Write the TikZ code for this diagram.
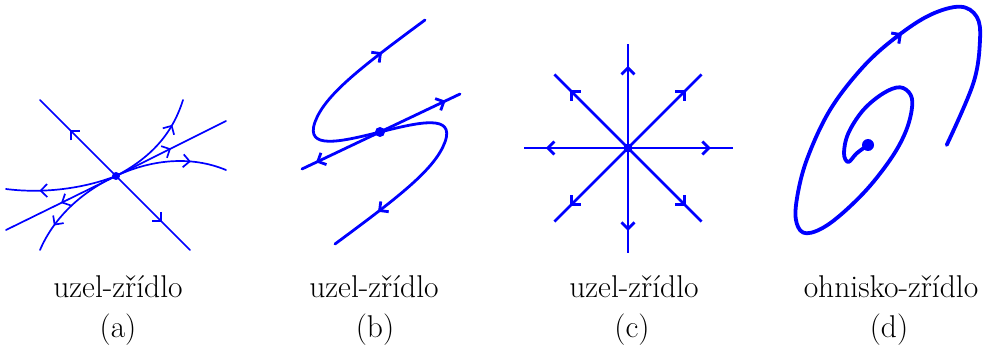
\documentclass[tikz,border=0pt]{standalone}
\usetikzlibrary{arrows.meta,decorations.markings}
\begin{document}
\begin{tikzpicture}[x=1pt,y=-1pt,
  traj/.style={draw=blue,line cap=round,line join=round},
  thinA/.style={traj,line width=1.7pt},
  thickB/.style={traj,line width=2.8pt},
  thickD/.style={traj,line width=3.8pt},
  midarrow/.style={postaction={decorate},decoration={markings,
     mark=at position #1 with {\arrow{Straight Barb[length=6.5pt,width=13pt]}}}},
  dot/.style={circle,fill=blue,inner sep=0pt,minimum size=#1},
  lab/.style={font=\fontsize{31.5}{38}\selectfont,inner sep=0pt,anchor=base}]
\useasboundingbox (0,0) rectangle (989,350);

% ---------- (a)
\node[dot=8pt] (ca) at (116,176) {};
\coordinate (a1) at (40,100);
\coordinate (a2) at (190,250);
\coordinate (a3) at (6,230);
\coordinate (a4) at (226,121);
\draw[thinA,midarrow=0.6] (ca.center) -- (a1);
\draw[thinA,midarrow=0.62] (ca.center) -- (a2);
\draw[thinA,midarrow=0.5] (ca.center) -- (a3);
\draw[thinA,midarrow=0.5] (ca.center) -- (a4);
\draw[thinA,midarrow=0.74] (ca.center) .. controls (150,158) and (172,135) .. (183,100);
\draw[thinA,midarrow=0.68] (ca.center) .. controls (150,160) and (190,155) .. (226,170);
\draw[thinA,midarrow=0.7] (ca.center) .. controls (85,188) and (45,194) .. (6,189);
\draw[thinA,midarrow=0.74] (ca.center) .. controls (85,190) and (55,215) .. (40,250);

% ---------- (b)
\node[dot=10pt] (cb) at (380,132) {};
\coordinate (b1) at (460,94);
\coordinate (b2) at (302,169);
\draw[thickB,midarrow=0.82] (cb.center) -- (b1);
\draw[thickB,midarrow=0.82] (cb.center) -- (b2);
\draw[thickB,midarrow=0.77] (cb.center) .. controls (340,142) and (305,150) .. (315,122)
   .. controls (325,95) and (360,68) .. (425,20);
\draw[thickB,midarrow=0.77] (cb.center) .. controls (420,122) and (455,114) .. (445,142)
   .. controls (435,169) and (400,196) .. (335,244);

% ---------- (c)
\node[dot=9pt] (cc) at (628,148) {};
\foreach \ang/\r in {0/105,45/104,90/104,135/104,180/104,225/104,270/105,315/104}{
  \draw[thickB,line cap=butt,midarrow=0.79] (cc.center) -- ++({\r*cos(\ang)},{-\r*sin(\ang)});
}

% ---------- (d)
\node[dot=12pt] (cd) at (868,145) {};
\draw[thickD] plot[smooth,tension=0.6] coordinates {
 (868,145) (856.7,153.3) (848.3,162) (844,153.3) (848.3,133.3) (863.3,110)
 (883.3,93.3) (900,87.3) (910.7,95) (911.7,110) (905,133.3) (890,160)
 (863.3,193.3) (830,223.3) (806.7,233.3) (796.7,223.3) (796.7,200)
 (806.7,160) (830,110) (863.3,66.7) (896.7,36.7) (930,15) (960,6.7)
 (976.7,16.7) (980,40) (973.3,83.3) (946.7,145)};
\coordinate (d1) at (892,40.5);
\coordinate (d2) at (902,33.3);
\draw[thickD,line width=3pt,-{Straight Barb[length=6.5pt,width=13pt]}] (d1) -- (d2);

% ---------- labels
\node[lab] (la) at (118,298) {uzel-zřídlo};
\node[lab] (pa) at (118,337) {(a)};
\node[lab] (lb) at (374,298) {uzel-zřídlo};
\node[lab] (pb) at (375,337) {(b)};
\node[lab] (lc) at (634,298) {uzel-zřídlo};
\node[lab] (pc) at (632,337) {(c)};
\node[lab] (ld) at (891,298) {ohnisko-zřídlo};
\node[lab] (pd) at (889,337) {(d)};
\end{tikzpicture}
\end{document}
